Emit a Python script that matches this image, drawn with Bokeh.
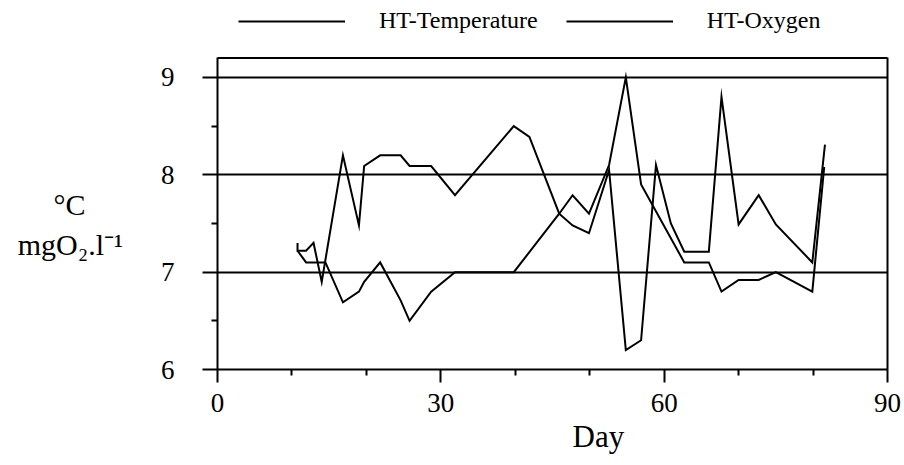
from bokeh.plotting import figure
from bokeh.models import Range1d, FixedTicker, Legend, LegendItem, Title, LinearAxis, Span
from bokeh.embed import file_html
from bokeh.resources import INLINE

# ---- data ----
series_names = ["HT-Temperature", "HT-Oxygen"]

temp_day = [10.75, 10.75, 11.9, 12.9, 14.0, 16.85, 19.0, 19.7, 21.85, 24.6,
            25.8, 28.7, 31.9, 39.8, 41.9, 45.9, 47.7, 49.9, 52.6, 54.85,
            56.9, 58.9, 60.9, 62.7, 66.0, 67.7, 70.0, 72.7, 75.0, 79.9, 81.6]
temp_val = [7.3, 7.22, 7.22, 7.3, 6.9, 8.2, 7.48, 8.09, 8.2, 8.2,
            8.09, 8.09, 7.79, 8.5, 8.39, 7.6, 7.48, 7.4, 8.05, 6.2,
            6.3, 8.1, 7.5, 7.21, 7.21, 8.8, 7.49, 7.79, 7.49, 7.1, 8.31]

oxy_day = [10.75, 11.9, 12.9, 14.5, 16.85, 19.0, 19.7, 21.85, 24.6, 25.8,
           28.7, 31.9, 39.8, 45.9, 47.7, 49.9, 52.6, 54.85, 56.9, 62.7,
           66.0, 67.7, 70.0, 72.7, 75.0, 79.9, 81.5]
oxy_val = [7.22, 7.1, 7.1, 7.1, 6.69, 6.8, 6.9, 7.1, 6.71, 6.5,
           6.8, 7.0, 7.0, 7.6, 7.79, 7.6, 8.1, 9.0, 7.9, 7.1,
           7.1, 6.8, 6.92, 6.92, 7.0, 6.8, 8.08]

x_ticks = [0, 30, 60, 90]
x_minor = [10, 20, 40, 50, 70, 80]
y_ticks = [6, 7, 8, 9]
y_minor = [6.5, 7.5, 8.5]
y_box = (6, 9.2)          # extent of the boxed plot area
x_title = "Day"
y_title_lines = ["°C", "mgO₂.l⁻¹"]

FONT = "Liberation Serif"
NB = "\u00a0"
# two blank lines on top push the two-line title down to the reference's height;
# trailing no-break spaces centre "°C" over the second line
y_title = "\n".join([NB, NB, y_title_lines[0] + NB * 5, y_title_lines[1]])

p = figure(width=904, height=465, output_backend="svg", toolbar_location=None,
           x_range=Range1d(0, 90), y_range=Range1d(6, 9.79),
           min_border_left=217, min_border_right=17,
           min_border_top=0, min_border_bottom=96)
p.background_fill_color = "white"
p.border_fill_color = "white"
p.outline_line_color = None

p.xgrid.visible = False
p.ygrid.ticker = FixedTicker(ticks=y_ticks)
p.ygrid.grid_line_color = "black"
p.ygrid.grid_line_width = 2

# top edge of the box
p.add_layout(Span(location=y_box[1], dimension="width", line_color="black", line_width=2))

xa = p.xaxis[0]
xa.ticker = FixedTicker(ticks=x_ticks, minor_ticks=x_minor)
xa.axis_line_width = 2
xa.major_tick_line_width = 2
xa.minor_tick_line_width = 2
xa.major_tick_in = 0
xa.major_tick_out = 13
xa.minor_tick_in = 0
xa.minor_tick_out = 6
xa.major_label_text_font = FONT
xa.major_label_text_font_size = "27px"
xa.major_label_text_color = "black"
xa.major_label_standoff = 11

ya = p.yaxis[0]
ya.bounds = y_box
ya.ticker = FixedTicker(ticks=y_ticks, minor_ticks=y_minor)
ya.axis_line_width = 2
ya.major_tick_line_width = 2
ya.minor_tick_line_width = 2
ya.major_tick_in = 0
ya.major_tick_out = 15
ya.minor_tick_in = 0
ya.minor_tick_out = 6
ya.major_label_text_font = FONT
ya.major_label_text_font_size = "27px"
ya.major_label_text_color = "black"
ya.major_label_standoff = 28
ya.axis_label = y_title
ya.axis_label_text_font = FONT
ya.axis_label_text_font_size = "30px"
ya.axis_label_text_font_style = "normal"
ya.axis_label_text_color = "black"
ya.axis_label_standoff = 35
if "axis_label_orientation" in ya.properties():
    ya.axis_label_orientation = "horizontal"

# right edge of the box
ra = LinearAxis(bounds=y_box, ticker=FixedTicker(ticks=[]), axis_line_width=2,
                major_tick_in=0, major_tick_out=0, minor_tick_in=0, minor_tick_out=0,
                major_label_text_font_size="0px")
p.add_layout(ra, "right")

r1 = p.line(temp_day, temp_val, line_color="black", line_width=2, line_join="miter")
r2 = p.line(oxy_day, oxy_val, line_color="black", line_width=2, line_join="miter")

legend = Legend(items=[LegendItem(label=series_names[0], renderers=[r1]),
                       LegendItem(label=series_names[1], renderers=[r2])],
                orientation="horizontal", location=(21, 335),
                border_line_color=None, background_fill_alpha=0,
                glyph_width=107, glyph_height=24, label_standoff=34, spacing=28,
                padding=0, margin=0, label_text_font=FONT,
                label_text_font_size="24px", label_text_color="black")
p.add_layout(legend)

p.add_layout(Title(text=x_title, align="left", offset=355, standoff=5,
                   text_font=FONT, text_font_size="31px",
                   text_font_style="normal", text_color="black"), "below")

open("out.html", "w").write(file_html(p, INLINE))
